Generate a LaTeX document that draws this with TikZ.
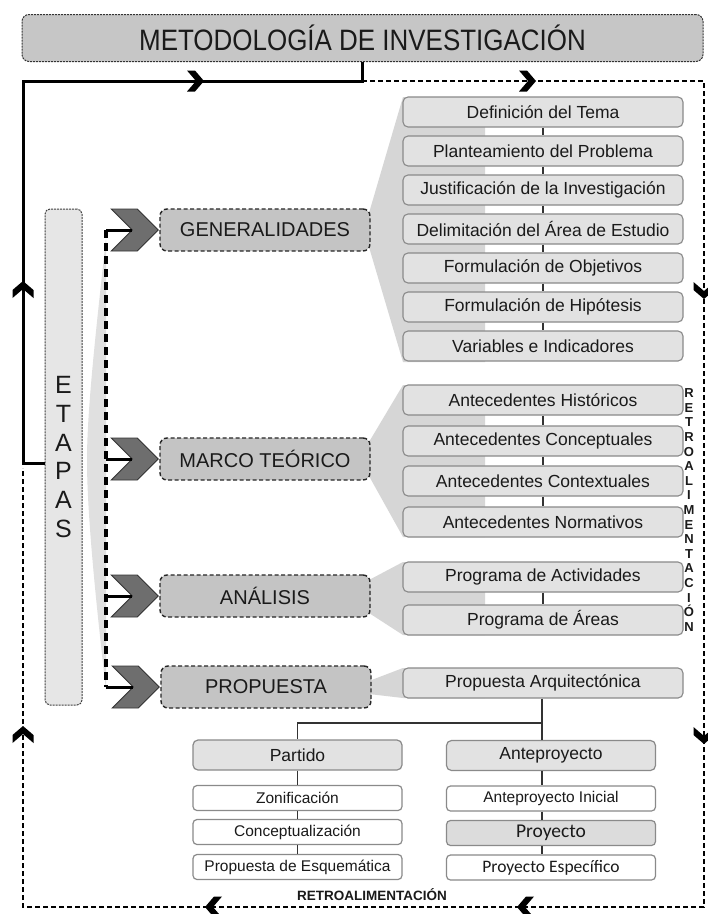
\documentclass[tikz,border=0pt]{standalone}
\usepackage{fontspec}
\setmainfont{Liberation Sans}
\newfontfamily\titlefont[FakeStretch=0.88]{Liberation Sans}
\newfontfamily\calfont{Carlito}
\usetikzlibrary{calc}
\definecolor{txt}{HTML}{1A1A1A}
\definecolor{titlefill}{HTML}{C6C6C6}
\definecolor{catfill}{HTML}{C4C4C4}
\definecolor{itemfill}{HTML}{E2E2E2}
\definecolor{itemline}{HTML}{8A8A8A}
\definecolor{funnel}{HTML}{D6D6D6}
\definecolor{chevfill}{HTML}{6E6E6E}
\definecolor{etapasfill}{HTML}{E6E6E6}
\definecolor{proyfill}{HTML}{DCDCDC}
\begin{document}
\begin{tikzpicture}[x=1pt,y=-1pt,
 titlebox/.style={rectangle, rounded corners=7pt, fill=titlefill, draw=black!80, line width=1pt, dash pattern=on 2pt off 1pt, minimum width=681pt, minimum height=47pt, inner sep=0pt, text=txt, font=\titlefont\fontsize{29.5}{30}\selectfont},
 etapasbox/.style={rectangle, rounded corners=5pt, fill=etapasfill, draw=black!75, line width=1pt, dash pattern=on 2pt off 1pt, minimum width=37pt, minimum height=496pt, inner sep=0pt, text=txt, align=center, font=\fontsize{25}{28.8}\selectfont},
 catbox/.style={rectangle, rounded corners=7pt, fill=catfill, draw=black!85, line width=1.4pt, dash pattern=on 4pt off 2.5pt, minimum width=210pt, minimum height=42pt, inner sep=0pt, text=txt, font=\fontsize{20}{22}\selectfont},
 itembox/.style={rectangle, rounded corners=5pt, fill=itemfill, draw=itemline, line width=1.1pt, minimum width=280pt, minimum height=30pt, inner sep=0pt, text=txt, font=\fontsize{17.5}{19}\selectfont},
 subhead/.style={rectangle, rounded corners=5pt, fill=itemfill, draw=itemline, line width=1.2pt, minimum width=209pt, minimum height=30pt, inner sep=0pt, text=txt, font=\fontsize{17.5}{19}\selectfont},
 subbox/.style={rectangle, rounded corners=4pt, fill=white, draw=itemline, line width=1.2pt, minimum width=209pt, minimum height=25pt, inner sep=0pt, text=txt, font=\fontsize{15.5}{17}\selectfont},
 chevshape/.style={fill=chevfill, draw=black!80, line width=0.9pt, line join=miter},
 link/.style={draw=black!80, line width=1.4pt},
 mainline/.style={draw=black, line width=3pt},
 spine/.style={draw=black, line width=3.6pt, dash pattern=on 8pt off 5pt},
 feedback/.style={draw=black, line width=1.5pt, dash pattern=on 5pt off 3pt},
 chev/.pic={\fill[black] (-8,-10.5) -- (0,-10.5) -- (9,0) -- (0,10.5) -- (-8,10.5) -- (1,0) -- cycle;},
]
\useasboundingbox (0,0) rectangle (708,914);
\fill[white] (0,0) rectangle (708,914);

% background funnels
\fill[funnel] (369,213) -- (403,97) -- (485,97) -- (485,362) -- (403,362) -- (369,247) -- cycle;
\fill[funnel] (369,442) -- (403,385) -- (485,385) -- (485,537) -- (403,537) -- (369,476) -- cycle;
\fill[funnel] (369,580) -- (403,562) -- (485,562) -- (485,635) -- (403,635) -- (369,613) -- cycle;
\fill[funnel] (369,681) -- (403,668) -- (485,668) -- (485,698) -- (403,698) -- (369,694) -- cycle;
\fill[funnel!75!white] (106,238) .. controls (96,330) and (87,410) .. (87,460) .. controls (87,520) and (98,620) .. (106,690) -- cycle;

% title and stages
\node[titlebox] (title) at (362.5,38) {METODOLOGÍA DE INVESTIGACIÓN};
\node[etapasbox] (etapas) at (63.5,457) {E\\T\\A\\P\\A\\S};

\node[catbox] (gen) at (265,230) {GENERALIDADES};
\node[catbox] (mar) at (265,459) {MARCO TEÓRICO};
\node[catbox] (ana) at (265,596) {ANÁLISIS};
\node[catbox] (pro) at (266,687) {PROPUESTA};

% spine and branches
\coordinate (sg) at (106,230);
\coordinate (sm) at (106,459);
\coordinate (sa) at (106,596);
\coordinate (sp) at (106,687);
\draw[spine] (sg) -- (sp);
\foreach \n/\s in {gen/sg,mar/sm,ana/sa,pro/sp}{
  \path[chevshape] ($(\n.west)+(-1,0)$) -- ++(-21,-21) -- ++(-26,0) -- ++(21,21) -- ++(-21,21) -- ++(26,0) -- cycle;
  \draw[mainline] (\s) -- ($(\n.west)+(-27,0)$);
}

% lists
\node[itembox] (d1) at (543,112) {Definición del Tema};
\node[itembox] (d2) at (543,151) {Planteamiento del Problema};
\node[itembox] (d3) at (543,190) {Justificación de la Investigación};
\node[itembox] (d4) at (543,229) {Delimitación del Área de Estudio};
\node[itembox] (d5) at (543,268) {Formulación de Objetivos};
\node[itembox] (d6) at (543,307) {Formulación de Hipótesis};
\node[itembox] (d7) at (543,346) {Variables e Indicadores};
\node[itembox] (m1) at (543,400) {Antecedentes Históricos};
\node[itembox] (m2) at (543,441) {Antecedentes Conceptuales};
\node[itembox] (m3) at (543,481) {Antecedentes Contextuales};
\node[itembox] (m4) at (543,522) {Antecedentes Normativos};
\node[itembox] (a1) at (543,577) {Programa de Actividades};
\node[itembox] (a2) at (543,620) {Programa de Áreas};
\node[itembox] (p1) at (543,683) {Propuesta Arquitectónica};
\draw[link] (d1) -- (d2); \draw[link] (d2) -- (d3); \draw[link] (d3) -- (d4);
\draw[link] (d4) -- (d5); \draw[link] (d5) -- (d6); \draw[link] (d6) -- (d7);
\draw[link] (m1) -- (m2); \draw[link] (m2) -- (m3); \draw[link] (m3) -- (m4);
\draw[link] (a1) -- (a2);

% proposal tree
\node[subhead] (par) at (297.5,755) {Partido};
\node[subhead] (ant) at (551,755.5) {Anteproyecto};
\node[subbox] (zon) at (297.5,798) {Zonificación};
\node[subbox] (con) at (297.5,832) {Conceptualización};
\node[subbox] (esq) at (297.5,867) {Propuesta de Esquemática};
\node[subbox] (ini) at (551,798.5) {Anteproyecto Inicial};
\node[subbox, fill=proyfill, font=\calfont\fontsize{19.5}{21}\selectfont] (pry) at (551,833) {Proyecto};
\node[subbox, font=\calfont\fontsize{17.5}{19}\selectfont] (esp) at (551,867.5) {Proyecto Específico};
\coordinate (jn) at (542,723);
\draw[link] (p1.south -| jn) -- (ant.north -| jn);
\draw[link] (jn) -| (par.north);
\draw[link] (par) -- (zon); \draw[link] (zon) -- (con); \draw[link] (con) -- (esq);
\draw[link] (ant.south -| jn) -- (ini.north -| jn);
\draw[link] (ini.south -| jn) -- (pry.north -| jn);
\draw[link] (pry.south -| jn) -- (esp.north -| jn);

% main and feedback loops
\coordinate (tA) at (362,81);
\coordinate (cTL) at (23,81);
\coordinate (cE) at (23,463);
\coordinate (cTR) at (704,81);
\coordinate (cBR) at (704,907);
\coordinate (cBL) at (23,907);
\coordinate (cLe) at (23,468);
\draw[mainline] (title.south -| tA) -- (tA) -- (cTL) -- (cE) -- (etapas.west |- cE);
\draw[feedback] (tA) -- (cTR) -- (cBR) -- (cBL) -- (cLe);
\pic at (195,81) {chev};
\pic[rotate=90] at (23,290) {chev};
\pic at (527,81) {chev};
\pic[rotate=-90] at (704,290) {chev};
\pic[rotate=-90] at (704,735) {chev};
\pic[rotate=180] at (526,907) {chev};
\pic[rotate=180] at (214,907) {chev};
\pic[rotate=90] at (23,735) {chev};

\node[font=\bfseries\fontsize{13}{14.6}\selectfont, align=center, inner sep=0pt, text=txt] (retv) at (689,510) {R\\E\\T\\R\\O\\A\\L\\I\\M\\E\\N\\T\\A\\C\\I\\Ó\\N};
\node[font=\bfseries\fontsize{13.5}{15}\selectfont, inner sep=0pt, text=txt] (reth) at (372,895) {RETROALIMENTACIÓN};
\end{tikzpicture}
\end{document}
